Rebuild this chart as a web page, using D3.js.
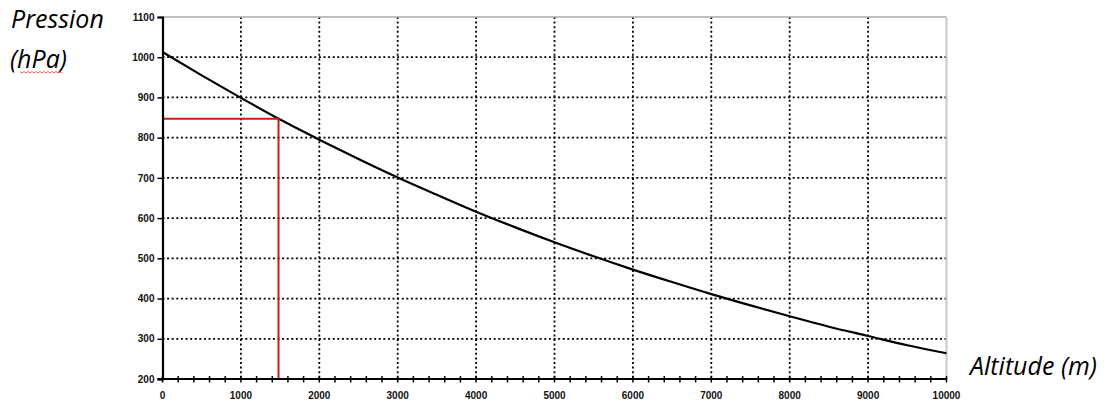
<!DOCTYPE html>
<html><head><meta charset="utf-8">
<script src="https://cdn.jsdelivr.net/npm/d3@7"></script>
<style>body{margin:0;background:#fff}</style>
</head><body>
<svg id="c" width="1110" height="411"></svg>
<script>
const altitudes = [0,500,1000,1500,2000,2500,3000,3500,4000,4500,5000,5500,6000,6500,7000,7500,8000,8500,9000,9500,10000];
const pressures = [1013,955,899,845,795,747,701,658,616,577,540,505,472,441,411,383,356,330,307,284,264];
const redAlt = [0,1480,1480];
const redP = [847,847,200];
const xTicks = [0,1000,2000,3000,4000,5000,6000,7000,8000,9000,10000];
const yTicks = [200,300,400,500,600,700,800,900,1000,1100];

const svg = d3.select("#c");
const x = d3.scaleLinear().domain([0,10000]).range([162.5,946.5]);
const y = d3.scaleLinear().domain([200,1100]).range([379,17]);

// grid
svg.append("g").selectAll("line").data(yTicks.filter(d=>d>200&&d<1100)).join("line")
  .attr("x1",x(0)).attr("x2",x(10000)).attr("y1",d=>y(d)).attr("y2",d=>y(d))
  .attr("stroke","#000").attr("stroke-width",1.8).attr("stroke-dasharray","2,2.6");
svg.append("g").selectAll("line").data(xTicks.filter(d=>d>0&&d<10000)).join("line")
  .attr("x1",d=>x(d)).attr("x2",d=>x(d)).attr("y1",y(1100)).attr("y2",y(200))
  .attr("stroke","#000").attr("stroke-width",1.8).attr("stroke-dasharray","2,2.6");

// borders
svg.append("line").attr("x1",x(0)).attr("x2",x(10000)).attr("y1",y(1100)).attr("y2",y(1100))
  .attr("stroke","#aaa").attr("stroke-width",1.5);
svg.append("line").attr("x1",x(10000)).attr("x2",x(10000)).attr("y1",y(1100)).attr("y2",y(200))
  .attr("stroke","#c8c8c8").attr("stroke-width",2);

// curve
const line = d3.line().x(d=>x(d[0])).y(d=>y(d[1])).curve(d3.curveMonotoneX);
svg.append("path").datum(altitudes.map((a,i)=>[a,pressures[i]]))
  .attr("d",line).attr("fill","none").attr("stroke","#000").attr("stroke-width",2.2);

// red guide
svg.append("path").datum(redAlt.map((a,i)=>[a,redP[i]]))
  .attr("d",d3.line().x(d=>x(d[0])).y(d=>y(d[1])))
  .attr("fill","none").attr("stroke","#cc1b1b").attr("stroke-width",2);

// axes
const yAxis = d3.axisLeft(y).tickValues(yTicks).tickFormat(d3.format("d")).tickSize(5).tickPadding(3);
const gy = svg.append("g").attr("transform",`translate(${x(0)},0)`).call(yAxis);
gy.select(".domain").attr("stroke","#000").attr("stroke-width",2.2);
gy.selectAll(".tick line").attr("stroke","#000").attr("stroke-width",1.5);
gy.selectAll("text").attr("font-family","Liberation Sans, Arial").attr("font-size",10).attr("font-weight","bold").attr("fill","#111");

const gx = svg.append("g").attr("transform",`translate(0,${y(200)})`);
gx.append("line").attr("x1",x(0)-5).attr("x2",x(10000)).attr("y1",0).attr("y2",0).attr("stroke","#000").attr("stroke-width",2.2);
gx.selectAll(".mt").data(d3.range(0,10001,200)).join("line").attr("class","mt")
  .attr("x1",d=>x(d)).attr("x2",d=>x(d)).attr("y1",-3).attr("y2",3.5).attr("stroke","#000").attr("stroke-width",1.5);
gx.selectAll("text").data(xTicks).join("text")
  .attr("x",d=>x(d)).attr("y",20).attr("text-anchor","middle")
  .attr("font-family","Liberation Sans, Arial").attr("font-size",10).attr("font-weight","bold").attr("fill","#111")
  .text(d=>d);

// labels
const lab = {"font-family":"Open Sans","font-style":"italic","font-size":25};
function t(txt,xx,yy){const e=svg.append("text").attr("x",xx).attr("y",yy).text(txt);for(const k in lab)e.attr(k,lab[k]);e.attr("fill","#000");return e;}
t("Pression",11,28);
t("(hPa)",10,68);
t("Altitude (m)",970,375);
// spellcheck wavy underline
const wave = d3.range(20,63,2).map((xx,i)=>[xx, 72 + (i%2?1:-0.5)]);
svg.append("path").attr("d",d3.line()(wave)).attr("fill","none").attr("stroke","#d04040").attr("stroke-width",0.8);
</script>
</body></html>
